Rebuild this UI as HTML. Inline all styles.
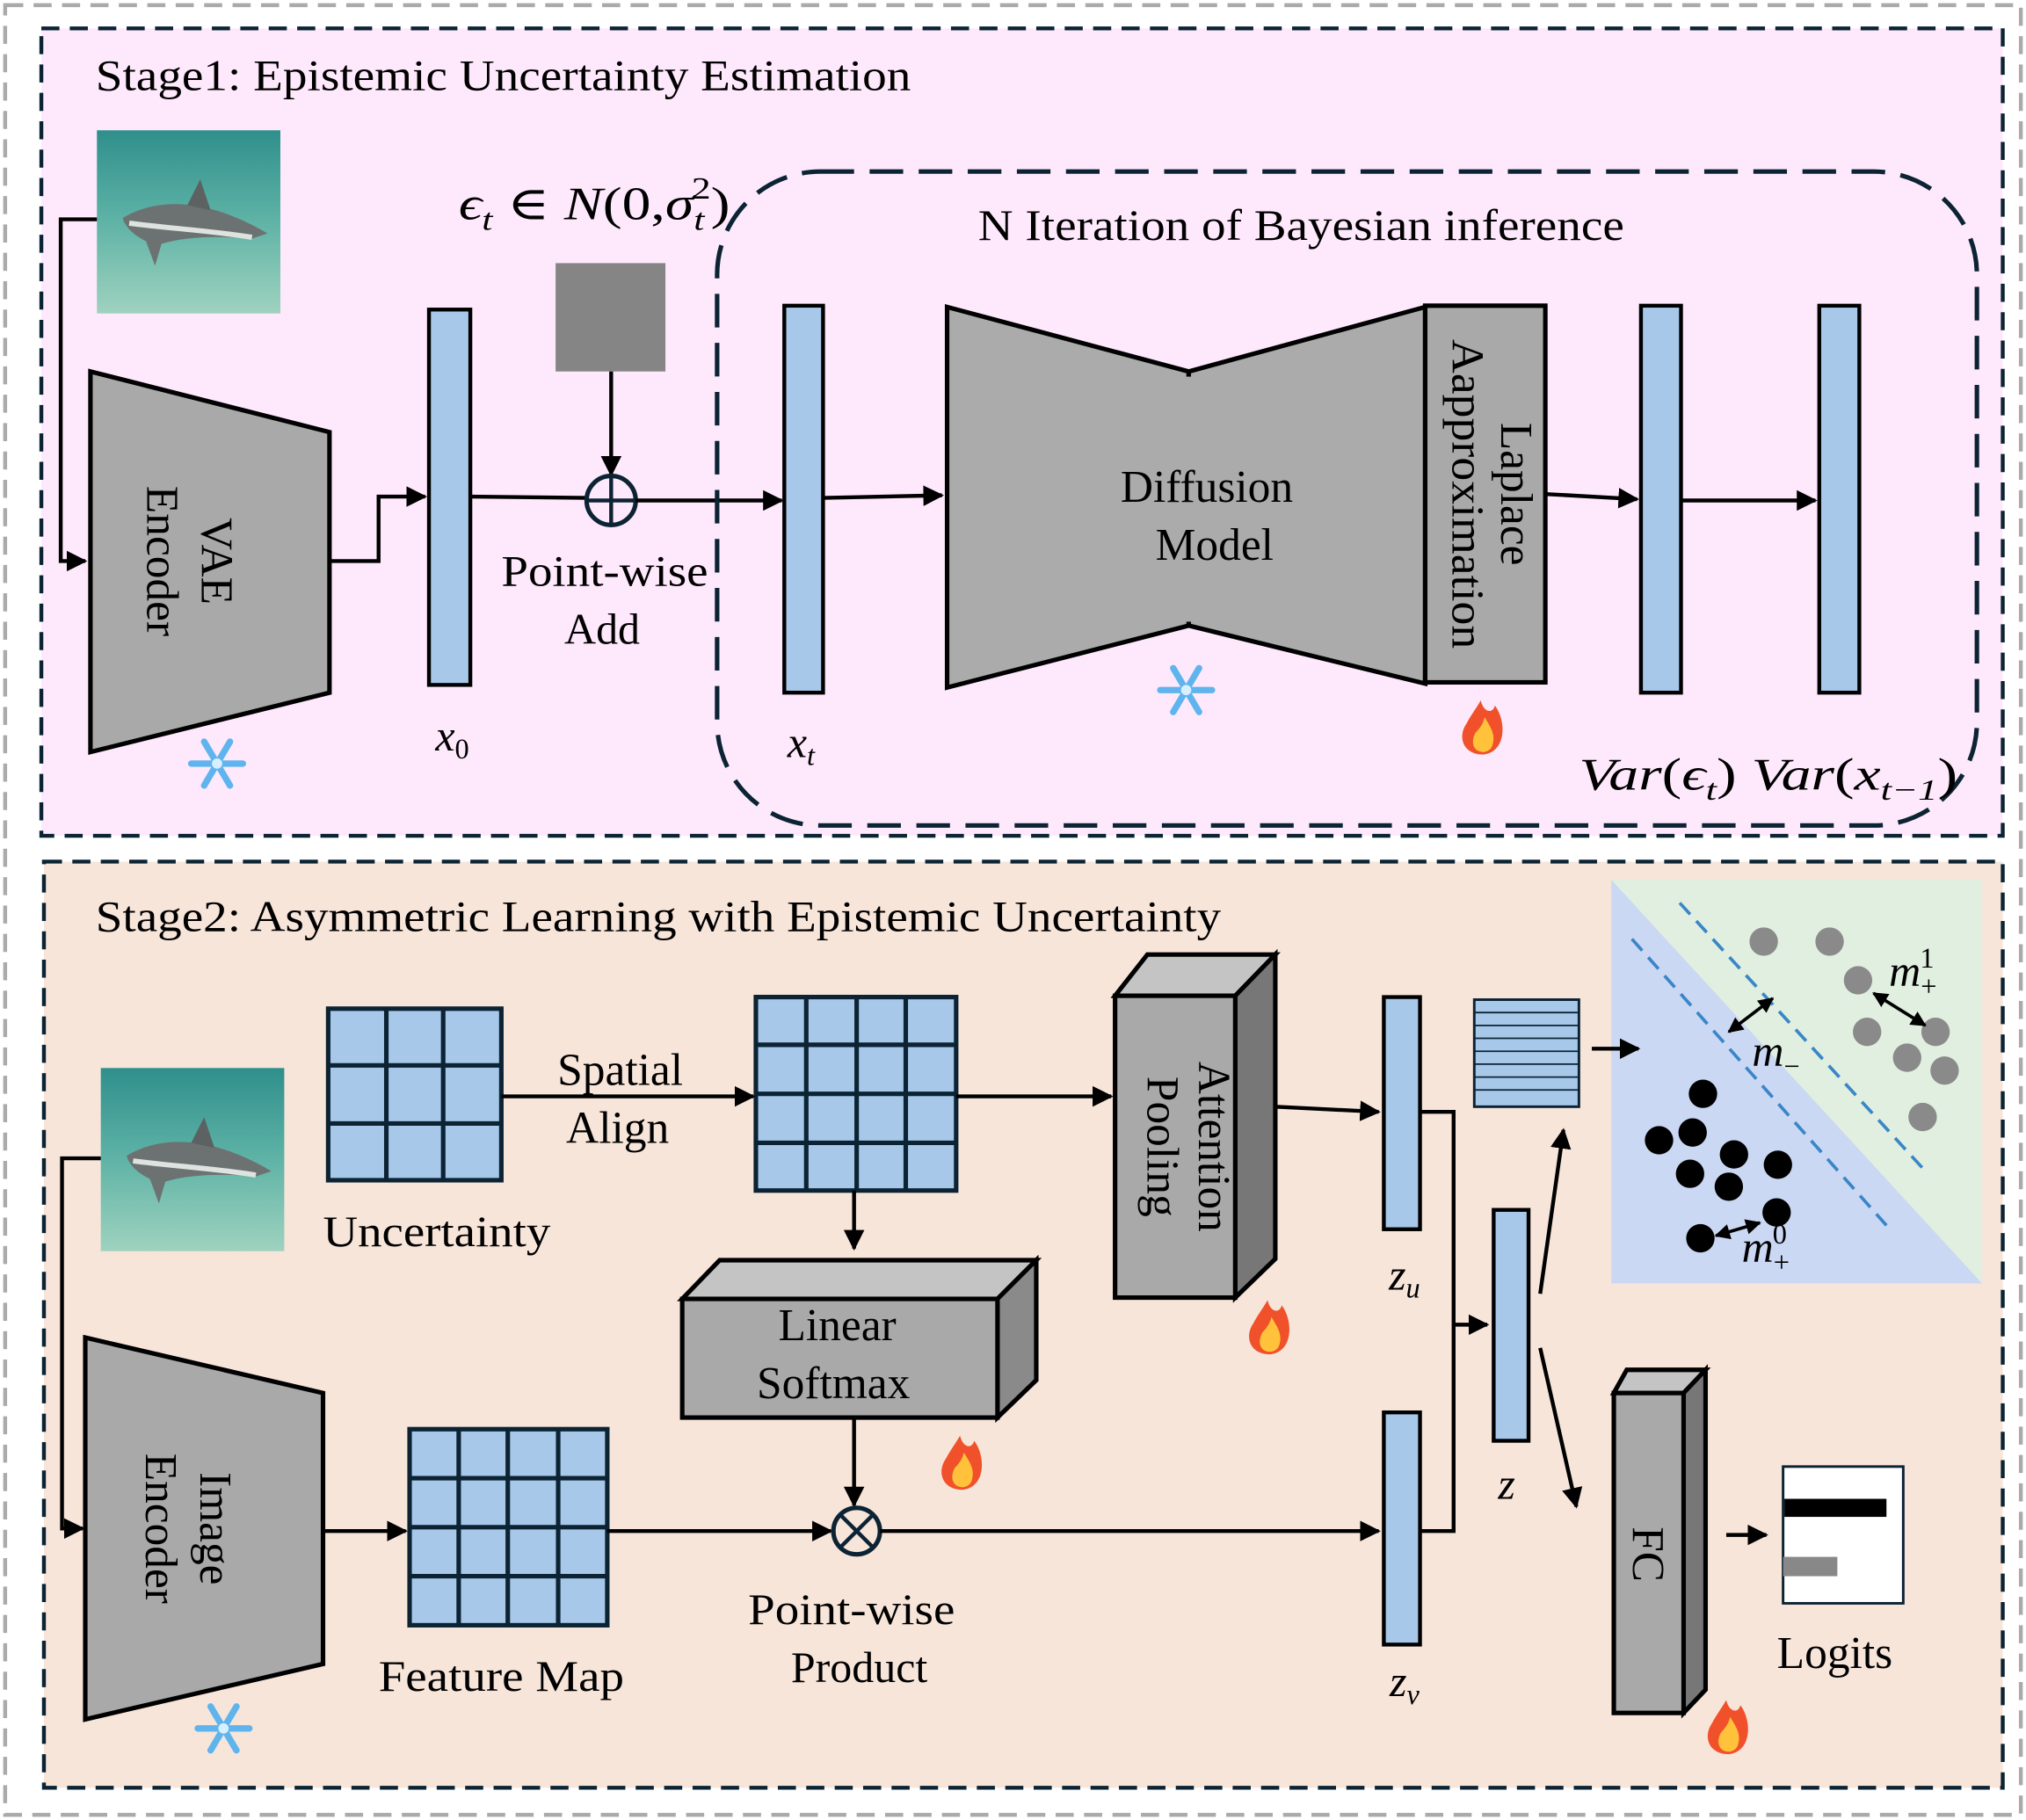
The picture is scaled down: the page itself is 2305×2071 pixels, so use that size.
<!DOCTYPE html>
<html><head><meta charset="utf-8"><style>
html,body{margin:0;padding:0;background:#fff}
svg{display:block}
text{font-family:"Liberation Serif","DejaVu Serif",serif;fill:#000}
.it{font-style:italic}
</style></head><body>
<svg width="2305" height="2071" viewBox="0 0 1568 1411" preserveAspectRatio="none" xmlns="http://www.w3.org/2000/svg">
<defs>
<marker id="a" viewBox="0 0 10 10" markerWidth="16" markerHeight="16" refX="9" refY="5" orient="auto" markerUnits="userSpaceOnUse"><path d="M0,0 L10,5 L0,10 z" fill="#000"/></marker>
<marker id="a2" viewBox="0 0 10 10" markerWidth="12" markerHeight="12" refX="9" refY="5" orient="auto-start-reverse" markerUnits="userSpaceOnUse"><path d="M0,0 L10,5 L0,10 z" fill="#000"/></marker>
<linearGradient id="sea" x1="0" y1="0" x2="0" y2="1"><stop offset="0" stop-color="#2f8f8c"/><stop offset="0.5" stop-color="#5fb3a6"/><stop offset="1" stop-color="#9fd2bf"/></linearGradient>
<g id="shark"><rect width="142" height="142" fill="url(#sea)"/><path d="M20,68 C50,50 90,55 132,80 L120,84 C95,82 70,82 50,88 L45,105 L38,86 C30,82 22,76 20,68 z" fill="#6c7272"/><path d="M70,58 L80,38 L88,62 z" fill="#5c6262"/><path d="M25,72 C55,76 90,78 120,83" stroke="#dfe3e0" stroke-width="4" fill="none"/></g>
<g id="snow" stroke="#5fb4ee" stroke-width="5" stroke-linecap="round" fill="none"><line x1="-20" y1="0" x2="20" y2="0"/><line x1="-10" y1="-17" x2="10" y2="17"/><line x1="-10" y1="17" x2="10" y2="-17"/><circle r="4" fill="#d8efff" stroke="none"/></g>
<g id="fire"><path d="M0,20 C-16,20 -20,6 -13,-4 C-10,-10 -6,-15 -2,-22 C0,-13 7,-11 9,-18 C18,-6 18,18 0,20 z" fill="#f0512a"/><path d="M0,18 C-8,18 -10,10 -6,3 C-3,0 0,-4 1,-9 C5,-2 10,4 7,13 C6,16 3,18 0,18 z" fill="#ffc23a"/></g>
</defs>
<rect x="0" y="0" width="1568" height="1411" fill="#fff"/>
<rect x="4" y="4" width="1560" height="1403" fill="none" stroke="#aaa" stroke-width="3" stroke-dasharray="14,8"/>
<!-- Stage 1 -->
<rect x="32" y="22" width="1518" height="626" fill="#fee9fc" stroke="#0b2333" stroke-width="3" stroke-dasharray="14,8"/>
<text x="74" y="70" font-size="34" textLength="631" lengthAdjust="spacingAndGlyphs">Stage1: Epistemic Uncertainty Estimation</text>
<use href="#shark" x="75" y="101"/>
<polyline points="75,170 47,170 47,435 66,435" fill="none" stroke="#000" stroke-width="3" marker-end="url(#a)"/>
<polygon points="70,288 255,335 255,537 70,583" fill="#a9a9a9" stroke="#000" stroke-width="3.5"/>
<text transform="translate(150,435) rotate(90)" font-size="35" text-anchor="middle"><tspan x="0" y="-6">VAE</tspan><tspan x="0" y="36">Encoder</tspan></text>
<use href="#snow" x="168" y="592"/>
<polyline points="255,435 293,435 293,385 329,385" fill="none" stroke="#000" stroke-width="3" marker-end="url(#a)"/>
<rect x="332" y="240" width="32" height="291" fill="#a8c8ea" stroke="#000" stroke-width="3"/>
<text x="350" y="582" font-size="34" class="it" text-anchor="middle">x<tspan font-size="22" dy="6" font-style="normal">0</tspan></text>
<line x1="364" y1="385" x2="455" y2="386" stroke="#000" stroke-width="3"/>
<rect x="430" y="204" width="85" height="84" fill="#858585"/>
<line x1="473" y1="288" x2="473" y2="368" stroke="#000" stroke-width="3" marker-end="url(#a)"/>
<circle cx="473" cy="388" r="19" fill="none" stroke="#0b2333" stroke-width="3.5"/>
<line x1="454" y1="388" x2="492" y2="388" stroke="#0b2333" stroke-width="3"/><line x1="473" y1="369" x2="473" y2="407" stroke="#0b2333" stroke-width="3"/>
<text x="355" y="170" font-size="36" class="it" textLength="210" lengthAdjust="spacingAndGlyphs">ϵ<tspan font-size="24" dy="8">t</tspan><tspan dy="-8" font-style="normal"> ∈ </tspan>N<tspan font-style="normal">(0,</tspan>σ<tspan font-size="24" dy="8">t</tspan><tspan font-size="24" dy="-24" dx="-8" font-style="normal">2</tspan><tspan dy="16" font-style="normal">)</tspan></text>
<text x="468" y="454" font-size="34" text-anchor="middle" textLength="160" lengthAdjust="spacingAndGlyphs">Point-wise</text>
<text x="466" y="499" font-size="34" text-anchor="middle">Add</text>
<line x1="492" y1="388" x2="605" y2="388" stroke="#000" stroke-width="3" marker-end="url(#a)"/>
<rect x="555" y="133" width="975" height="507" rx="80" fill="none" stroke="#0b2333" stroke-width="3.5" stroke-dasharray="26,12"/>
<text x="1007" y="186" font-size="34" text-anchor="middle" textLength="500" lengthAdjust="spacingAndGlyphs">N Iteration of Bayesian inference</text>
<rect x="607" y="237" width="30" height="300" fill="#a8c8ea" stroke="#000" stroke-width="3"/>
<text x="620" y="587" font-size="34" class="it" text-anchor="middle">x<tspan font-size="22" dy="6">t</tspan></text>
<line x1="637" y1="386" x2="729" y2="384" stroke="#000" stroke-width="3" marker-end="url(#a)"/>
<polygon points="733,238 920,288 920,485 733,533" fill="#ababab" stroke="#000" stroke-width="3.5"/>
<polygon points="920,288 1103,238 1103,530 920,485" fill="#ababab" stroke="#000" stroke-width="3.5"/>
<rect x="900" y="292" width="40" height="190" fill="#ababab"/>
<text x="934" y="389" font-size="35" text-anchor="middle">Diffusion</text>
<text x="940" y="434" font-size="35" text-anchor="middle">Model</text>
<rect x="1103" y="237" width="93" height="292" fill="#a9a9a9" stroke="#000" stroke-width="3.5"/>
<text transform="translate(1150,383) rotate(90)" font-size="35" text-anchor="middle"><tspan x="0" y="-12">Laplace</tspan><tspan x="0" y="26" textLength="240" lengthAdjust="spacingAndGlyphs">Aapproximation</tspan></text>
<use href="#snow" x="918" y="535"/>
<use href="#fire" x="1148" y="565"/>
<line x1="1196" y1="383" x2="1267" y2="387" stroke="#000" stroke-width="3" marker-end="url(#a)"/>
<rect x="1270" y="237" width="31" height="300" fill="#a8c8ea" stroke="#000" stroke-width="3"/>
<line x1="1301" y1="388" x2="1405" y2="388" stroke="#000" stroke-width="3" marker-end="url(#a)"/>
<rect x="1408" y="237" width="31" height="300" fill="#a8c8ea" stroke="#000" stroke-width="3"/>
<text x="1222" y="612" font-size="35" class="it" textLength="293" lengthAdjust="spacingAndGlyphs">Var<tspan font-style="normal">(</tspan>ϵ<tspan font-size="23" dy="8">t</tspan><tspan dy="-8" font-style="normal">) </tspan>Var<tspan font-style="normal">(</tspan>x<tspan font-size="23" dy="8">t−1</tspan><tspan dy="-8" font-style="normal">)</tspan></text>
<!-- Stage 2 -->
<rect x="34" y="668" width="1516" height="718" fill="#f7e5da" stroke="#0b2333" stroke-width="3" stroke-dasharray="14,8"/>
<text x="74" y="722" font-size="34" textLength="871" lengthAdjust="spacingAndGlyphs">Stage2: Asymmetric Learning with Epistemic Uncertainty</text>
<use href="#shark" x="78" y="828"/>
<polyline points="78,898 48,898 48,1185 64,1185" fill="none" stroke="#000" stroke-width="3" marker-end="url(#a)"/>
<polygon points="66,1037 250,1080 250,1290 66,1333" fill="#a9a9a9" stroke="#000" stroke-width="3.5"/>
<text transform="translate(145,1185) rotate(90)" font-size="35" text-anchor="middle"><tspan x="0" y="-10">Image</tspan><tspan x="0" y="32">Encoder</tspan></text>
<use href="#snow" x="173" y="1340"/>
<line x1="250" y1="1187" x2="314" y2="1187" stroke="#000" stroke-width="3" marker-end="url(#a)"/>
<g stroke="#0b2333" stroke-width="3.5" fill="#a8c8ea">
<rect x="317" y="1108" width="153" height="152"/>
<path d="M355,1108V1260M393,1108V1260M432,1108V1260M317,1146H470M317,1184H470M317,1222H470" fill="none"/>
<rect x="254" y="782" width="134" height="133"/>
<path d="M299,782V915M343,782V915M254,826H388M254,871H388" fill="none"/>
<rect x="585" y="773" width="155" height="150"/>
<path d="M624,773V923M663,773V923M701,773V923M585,810H740M585,848H740M585,886H740" fill="none"/>
</g>
<text x="388" y="1311" font-size="34" text-anchor="middle" textLength="190" lengthAdjust="spacingAndGlyphs">Feature Map</text>
<text x="338" y="966" font-size="34" text-anchor="middle" textLength="176" lengthAdjust="spacingAndGlyphs">Uncertainty</text>
<line x1="470" y1="1187" x2="643" y2="1187" stroke="#000" stroke-width="3" marker-end="url(#a)"/>
<circle cx="663" cy="1187" r="18" fill="none" stroke="#0b2333" stroke-width="3.5"/>
<line x1="650" y1="1174" x2="676" y2="1200" stroke="#0b2333" stroke-width="3"/><line x1="676" y1="1174" x2="650" y2="1200" stroke="#0b2333" stroke-width="3"/>
<text x="659" y="1259" font-size="34" text-anchor="middle" textLength="160" lengthAdjust="spacingAndGlyphs">Point-wise</text>
<text x="665" y="1304" font-size="34" text-anchor="middle">Product</text>
<line x1="681" y1="1187" x2="1067" y2="1187" stroke="#000" stroke-width="3" marker-end="url(#a)"/>
<line x1="388" y1="850" x2="583" y2="850" stroke="#000" stroke-width="3" marker-end="url(#a)"/>
<text x="480" y="841" font-size="35" text-anchor="middle">Spatial</text>
<text x="478" y="886" font-size="35" text-anchor="middle">Align</text>
<line x1="740" y1="850" x2="860" y2="850" stroke="#000" stroke-width="3" marker-end="url(#a)"/>
<line x1="661" y1="923" x2="661" y2="968" stroke="#000" stroke-width="3" marker-end="url(#a)"/>
<g stroke="#000" stroke-width="3.5">
<polygon points="528,1007 557,977 802,977 772,1007" fill="#c4c4c4"/>
<polygon points="772,1007 802,977 802,1070 772,1099" fill="#8a8a8a"/>
<rect x="528" y="1007" width="244" height="92" fill="#a9a9a9"/>
<polygon points="863,772 888,740 987,740 956,772" fill="#c4c4c4"/>
<polygon points="956,772 987,740 987,976 956,1006" fill="#777"/>
<rect x="863" y="772" width="93" height="234" fill="#a9a9a9"/>
<polygon points="1249,1080 1259,1062 1320,1062 1303,1080" fill="#c4c4c4"/>
<polygon points="1303,1080 1320,1062 1320,1310 1303,1328" fill="#777"/>
<rect x="1249" y="1080" width="54" height="248" fill="#a9a9a9"/>
</g>
<text x="648" y="1039" font-size="35" text-anchor="middle">Linear</text>
<text x="645" y="1084" font-size="35" text-anchor="middle">Softmax</text>
<use href="#fire" x="745" y="1135"/>
<line x1="661" y1="1099" x2="661" y2="1167" stroke="#000" stroke-width="3" marker-end="url(#a)"/>
<text transform="translate(910,889) rotate(90)" font-size="35" text-anchor="middle"><tspan x="0" y="-18">Attention</tspan><tspan x="0" y="22">Pooling</tspan></text>
<use href="#fire" x="983" y="1030"/>
<text transform="translate(1276,1205) rotate(90)" font-size="35" text-anchor="middle"><tspan x="0" y="12">FC</tspan></text>
<use href="#fire" x="1338" y="1340"/>
<line x1="987" y1="858" x2="1067" y2="862" stroke="#000" stroke-width="3" marker-end="url(#a)"/>
<rect x="1071" y="773" width="28" height="180" fill="#a8c8ea" stroke="#000" stroke-width="3"/>
<rect x="1071" y="1095" width="28" height="180" fill="#a8c8ea" stroke="#000" stroke-width="3"/>
<text x="1087" y="1000" font-size="34" class="it" text-anchor="middle">z<tspan font-size="22" dy="6">u</tspan></text>
<text x="1087" y="1315" font-size="34" class="it" text-anchor="middle">z<tspan font-size="22" dy="6">v</tspan></text>
<polyline points="1099,862 1125,862 1125,1187 1099,1187" fill="none" stroke="#000" stroke-width="3"/>
<line x1="1125" y1="1027" x2="1151" y2="1027" stroke="#000" stroke-width="3" marker-end="url(#a)"/>
<rect x="1156" y="938" width="27" height="179" fill="#a8c8ea" stroke="#000" stroke-width="3"/>
<text x="1166" y="1162" font-size="34" class="it" text-anchor="middle">z</text>
<line x1="1192" y1="1003" x2="1210" y2="876" stroke="#000" stroke-width="3" marker-end="url(#a)"/>
<line x1="1192" y1="1045" x2="1220" y2="1168" stroke="#000" stroke-width="3" marker-end="url(#a)"/>
<rect x="1141" y="775" width="81" height="83" fill="#a8c8ea" stroke="#0b2333" stroke-width="2"/>
<path d="M1141,785H1222M1141,795H1222M1141,805H1222M1141,815H1222M1141,825H1222M1141,835H1222M1141,845H1222" stroke="#0b2333" stroke-width="1.2"/>
<polygon points="1247,682 1534,682 1534,995" fill="#e0efdf"/>
<polygon points="1247,682 1534,995 1247,995" fill="#cbd8f3"/>
<line x1="1232" y1="813" x2="1268" y2="813" stroke="#000" stroke-width="3" marker-end="url(#a)"/>
<line x1="1263" y1="728" x2="1460" y2="950" stroke="#3a86c8" stroke-width="2.5" stroke-dasharray="12,7"/>
<line x1="1300" y1="700" x2="1492" y2="910" stroke="#3a86c8" stroke-width="2.5" stroke-dasharray="12,7"/>
<g fill="#8a8a8a"><circle cx="1365" cy="730" r="11"/><circle cx="1416" cy="730" r="11"/><circle cx="1438" cy="760" r="11"/><circle cx="1445" cy="800" r="11"/><circle cx="1476" cy="820" r="11"/><circle cx="1505" cy="830" r="11"/><circle cx="1498" cy="800" r="11"/><circle cx="1488" cy="866" r="11"/></g>
<g fill="#000"><circle cx="1318" cy="848" r="11"/><circle cx="1284" cy="884" r="11"/><circle cx="1310" cy="878" r="11"/><circle cx="1342" cy="895" r="11"/><circle cx="1376" cy="903" r="11"/><circle cx="1308" cy="910" r="11"/><circle cx="1338" cy="920" r="11"/><circle cx="1375" cy="940" r="11"/><circle cx="1316" cy="960" r="11"/></g>
<line x1="1338" y1="800" x2="1372" y2="774" stroke="#000" stroke-width="2.5" marker-start="url(#a2)" marker-end="url(#a2)"/>
<line x1="1450" y1="770" x2="1490" y2="795" stroke="#000" stroke-width="2.5" marker-start="url(#a2)" marker-end="url(#a2)"/>
<line x1="1328" y1="958" x2="1362" y2="948" stroke="#000" stroke-width="2.5" marker-start="url(#a2)" marker-end="url(#a2)"/>
<text x="1356" y="826" font-size="34" class="it">m<tspan font-size="22" dy="8" font-style="normal">−</tspan></text>
<text x="1462" y="764" font-size="34" class="it">m<tspan font-size="22" dy="8" font-style="normal">+</tspan><tspan font-size="22" dy="-22" dx="-13" font-style="normal">1</tspan></text>
<text x="1348" y="978" font-size="34" class="it">m<tspan font-size="22" dy="8" font-style="normal">+</tspan><tspan font-size="22" dy="-22" dx="-13" font-style="normal">0</tspan></text>
<line x1="1336" y1="1190" x2="1367" y2="1190" stroke="#000" stroke-width="3" marker-end="url(#a)"/>
<rect x="1380" y="1137" width="93" height="106" fill="#fff" stroke="#0b2333" stroke-width="2"/>
<rect x="1381" y="1162" width="79" height="14" fill="#000"/>
<rect x="1380" y="1207" width="42" height="15" fill="#888"/>
<text x="1420" y="1293" font-size="35" text-anchor="middle">Logits</text>
</svg>
</body></html>
